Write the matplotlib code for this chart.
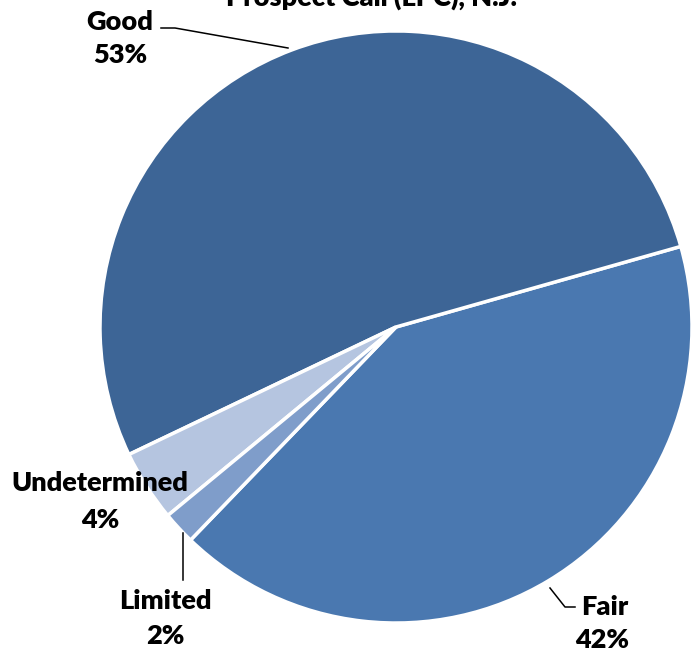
import matplotlib
matplotlib.use("Agg")
import matplotlib.pyplot as plt

# Data
categories = ["Fair", "Good", "Undetermined", "Limited"]
values = [41.6, 52.7, 3.9, 1.8]
pct_labels = ["42%", "53%", "4%", "2%"]
colors = ["#4A78B0", "#3D6596", "#B5C5E0", "#7F9DCA"]
title = "Prospect Call (LPC), N.J."

W, H = 694, 652
fig = plt.figure(figsize=(W / 100, H / 100), dpi=100)
ax = fig.add_axes([0, 0, 1, 1])

cx, cy = 396, H - 327
R = 296
ax.pie(values, colors=colors, startangle=-133.96, counterclock=True,
       center=(cx, cy), radius=R, explode=[0.016, 0.017, 0.004, 0.004],
       wedgeprops=dict(edgecolor="white", linewidth=2.5), frame=True)
ax.set_xlim(0, W)
ax.set_ylim(0, H)
ax.set_aspect("equal")
ax.axis("off")

font = dict(family=["Lato", "DejaVu Sans"], fontweight="heavy", color="black")
fs = 19.5

def Y(y):
    return H - y

# Title (cut off at top, as in the reference)
ax.text(372, Y(6), title, ha="center", va="baseline", fontsize=19.5, **font)

# Good label
ax.text(120, Y(22), "Good", ha="center", va="center", fontsize=fs, **font)
ax.text(120, Y(55), "53%", ha="center", va="center", fontsize=fs, **font)
ax.plot([161, 175, 288], [Y(28), Y(28), Y(48)], color="black", lw=1.1)

# Fair label
ax.text(605, Y(607), "Fair", ha="center", va="center", fontsize=fs, **font)
ax.text(602, Y(640), "42%", ha="center", va="center", fontsize=fs, **font)
ax.plot([550, 565, 575], [Y(588), Y(607), Y(607)], color="black", lw=1.1)

# Undetermined label
ax.text(100, Y(483), "Undetermined", ha="center", va="center", fontsize=fs, **font)
ax.text(100, Y(520), "4%", ha="center", va="center", fontsize=fs, **font)

# Limited label
ax.text(165, Y(601), "Limited", ha="center", va="center", fontsize=fs, **font)
ax.text(165, Y(636), "2%", ha="center", va="center", fontsize=fs, **font)
ax.plot([183, 183], [Y(533), Y(580)], color="black", lw=1.1)

fig.savefig("out.png", dpi=100)
